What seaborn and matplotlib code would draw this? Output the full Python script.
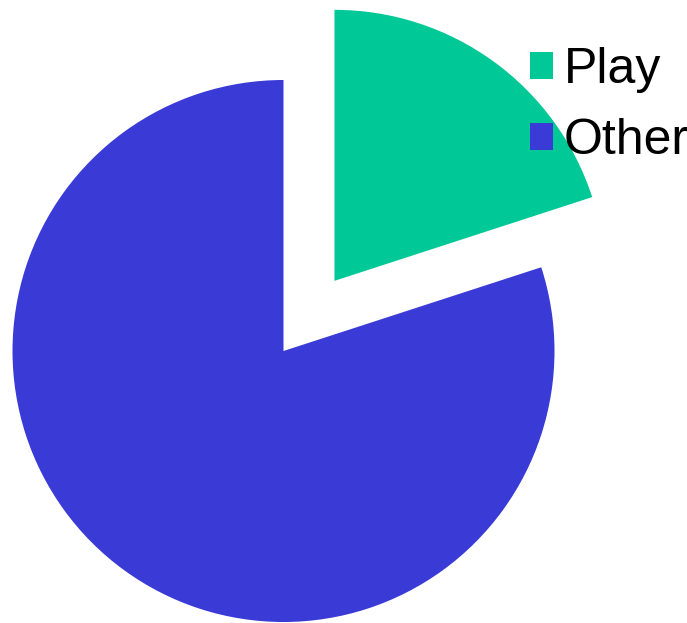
import matplotlib
matplotlib.use("Agg")
import matplotlib.pyplot as plt
import seaborn as sns

labels = ["Play", "Other"]
values = [20, 80]
colors = ["#00C896", "#3A3AD6"]
explode = [0.32, 0.0]

sns.set_theme(style="white")
plt.rcParams['font.family'] = ['Liberation Sans', 'DejaVu Sans']

fig = plt.figure(figsize=(6.87, 6.23), dpi=100)
ax = fig.add_axes([0, 0, 1, 1])
wedges, _ = ax.pie(values, colors=colors, explode=explode, startangle=90,
                   counterclock=False, radius=1.0, wedgeprops=dict(linewidth=0))
R = 271.0
ax.set_xlim(-283.5 / R, (687 - 283.5) / R)
ax.set_ylim(-(623 - 351) / R, 351 / R)
ax.set_aspect('auto')
ax.axis('off')

leg = fig.legend(wedges, labels, loc='upper left', bbox_to_anchor=(530 / 687, 1 - 47 / 623),
                 frameon=False, fontsize=36, handlelength=0.46, handleheight=0.46,
                 handletextpad=0.22, labelspacing=0.5, borderaxespad=0, borderpad=0,
                 labelcolor='black')
fig.savefig("out.png", dpi=100)
